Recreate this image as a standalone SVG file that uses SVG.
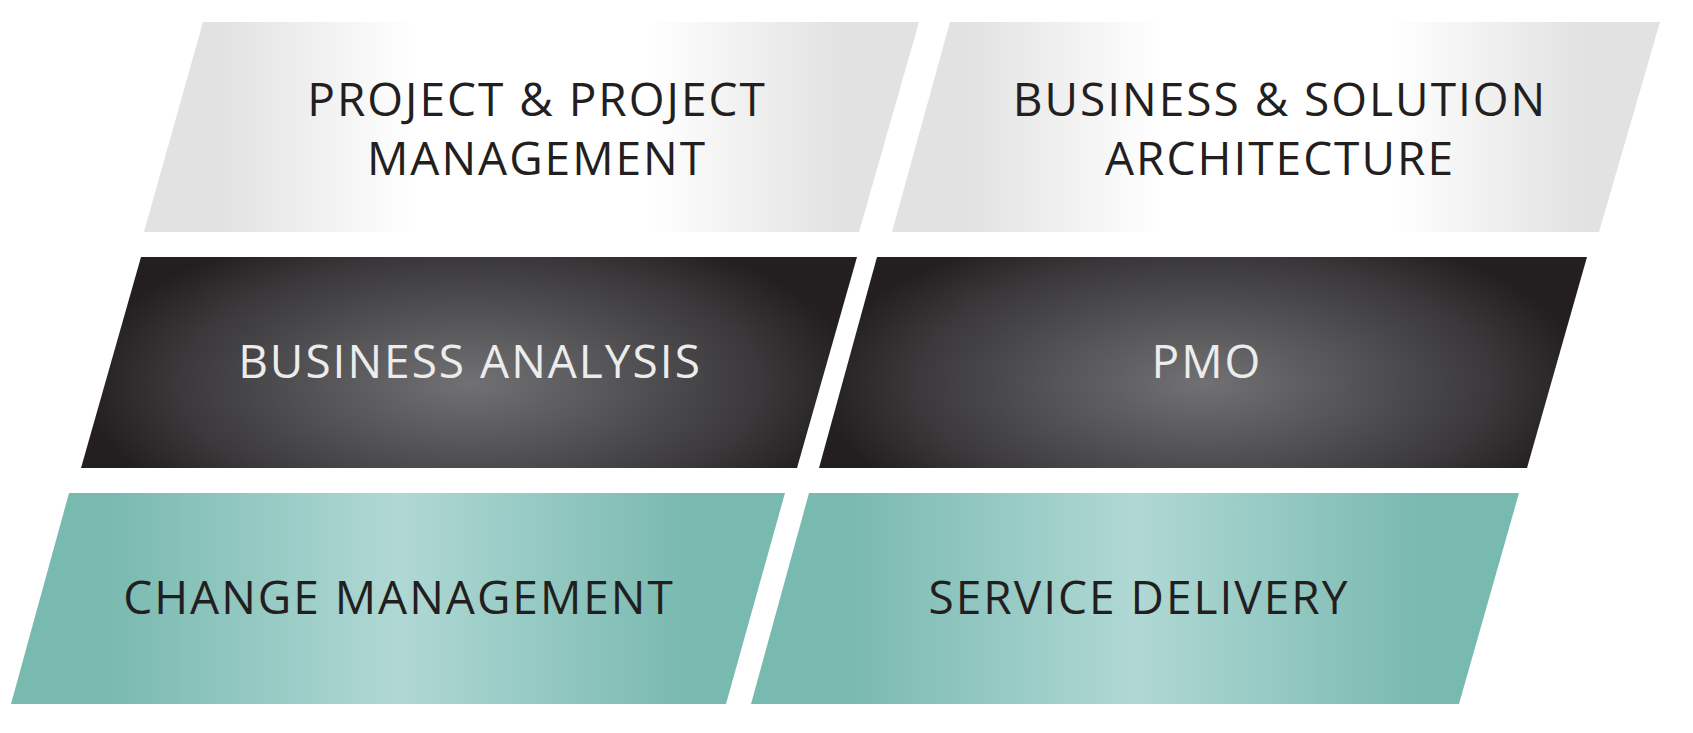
<svg xmlns="http://www.w3.org/2000/svg" width="1693" height="733" viewBox="0 0 1693 733">
<style>
text{font-family:"Open Sans","Liberation Sans",sans-serif;font-size:46px;text-anchor:middle;letter-spacing:2px}
.d{fill:#231f20}.w{fill:#ececec}
</style>
<defs>
<linearGradient id="gl" x1="0" x2="1" y1="0" y2="0">
<stop offset="0.1" stop-color="#e2e2e2"/><stop offset="0.35" stop-color="#ffffff"/><stop offset="0.65" stop-color="#ffffff"/><stop offset="0.9" stop-color="#e2e2e2"/></linearGradient>
<radialGradient id="gd" cx="0.5" cy="0.6" r="0.5" gradientTransform="translate(0.5 0.6) scale(1 1.6) translate(-0.5 -0.6)">
<stop offset="0" stop-color="#717174"/><stop offset="0.75" stop-color="#3a383a"/><stop offset="1" stop-color="#231f20"/></radialGradient>
<linearGradient id="gt" x1="0" x2="1" y1="0" y2="0">
<stop offset="0.12" stop-color="#78b9b0"/><stop offset="0.5" stop-color="#b0d8d4"/><stop offset="0.88" stop-color="#78b9b0"/></linearGradient>
</defs>
<g id="n1"><polygon points="203,22 919,22 859,232 144,232" fill="url(#gl)"/><text class="d" x="537" y="116">PROJECT &amp; PROJECT</text><text class="d" x="537" y="175">MANAGEMENT</text></g>
<g id="n2"><polygon points="950,22 1660,22 1599,232 892,232" fill="url(#gl)"/><text class="d" x="1280" y="116">BUSINESS &amp; SOLUTION</text><text class="d" x="1280" y="175">ARCHITECTURE</text></g>
<g id="n3"><polygon points="141,257 857,257 797,468 81,468" fill="url(#gd)"/><text class="w" x="470" y="378">BUSINESS ANALYSIS</text></g>
<g id="n4"><polygon points="877,257 1587,257 1527,468 819,468" fill="url(#gd)"/><text class="w" x="1207" y="378">PMO</text></g>
<g id="n5"><polygon points="69,493 785,493 726,704 11,704" fill="url(#gt)"/><text class="d" x="399" y="614">CHANGE MANAGEMENT</text></g>
<g id="n6"><polygon points="809,493 1519,493 1459,704 751,704" fill="url(#gt)"/><text class="d" x="1139" y="614">SERVICE DELIVERY</text></g>
<g id="connectors"/>
</svg>
